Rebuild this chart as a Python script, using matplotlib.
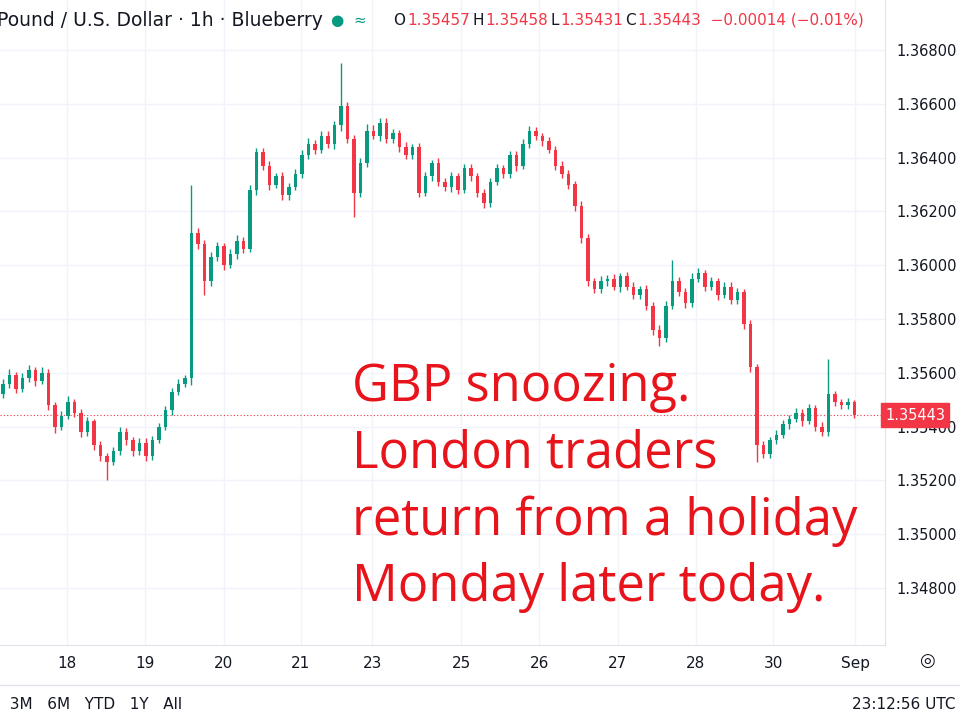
import matplotlib.pyplot as plt
from matplotlib.patches import Rectangle

# 2-hour candles, closes
closes = [
    1.3556, 1.3559, 1.3554, 1.3558, 1.3561, 1.3557, 1.3560, 1.3548, 1.3540, 1.3544,
    1.3549, 1.3545, 1.3538, 1.3542, 1.3533, 1.3529, 1.3527, 1.3531, 1.3538, 1.3535,
    1.3531, 1.3534, 1.3529, 1.3535, 1.3540, 1.3546, 1.3553, 1.3556, 1.3558, 1.3612,
    1.3608, 1.3594, 1.3603, 1.3607, 1.3600, 1.3604, 1.3609, 1.3606, 1.3628, 1.3642,
    1.3637, 1.3630, 1.3633, 1.3626, 1.3629, 1.3634, 1.3641, 1.3645, 1.3643, 1.3648,
    1.3645, 1.3652, 1.3659, 1.3647, 1.3627, 1.3638, 1.3650, 1.3648, 1.3653, 1.3647,
    1.3649, 1.3644, 1.3641, 1.3644, 1.3627, 1.3633, 1.3638, 1.3631, 1.3629, 1.3633,
    1.3628, 1.3636, 1.3633, 1.3627, 1.3623, 1.3631, 1.3636, 1.3634, 1.3641, 1.3637,
    1.3645, 1.3650, 1.3648, 1.3646, 1.3643, 1.3637, 1.3634, 1.3630, 1.3622, 1.3610,
    1.3594, 1.3591, 1.3594, 1.3595, 1.3592, 1.3596, 1.3592, 1.3589, 1.3591, 1.3585,
    1.3576, 1.3573, 1.3585, 1.3594, 1.3590, 1.3586, 1.3595, 1.3597, 1.3592, 1.3594,
    1.3589, 1.3592, 1.3587, 1.3590, 1.3578, 1.3562, 1.3533, 1.3530, 1.3535, 1.3537,
    1.3541, 1.3543, 1.3545, 1.3542, 1.3547, 1.3540, 1.3538, 1.3552, 1.3549, 1.3548,
    1.3549, 1.35443,
]
first_open = 1.3552
# wick lengths in units of 0.2 pip
wick_up = [
    8, 12, 6, 10, 9, 5, 11, 7, 6, 9, 12, 6, 8, 7, 5, 9, 6, 8, 10, 7,
    6, 9, 8, 7, 6, 8, 7, 9, 6, 10, 10, 7, 9, 8, 6, 10, 12, 8, 9, 8,
    7, 9, 6, 8, 7, 9, 10, 12, 8, 10, 9, 8, 8, 8, 7, 9, 12, 10, 8, 9,
    8, 7, 9, 6, 7, 8, 6, 9, 7, 8, 6, 9, 8, 6, 7, 8, 9, 6, 8, 7,
    9, 8, 7, 6, 9, 6, 8, 7, 6, 9, 8, 6, 9, 7, 8, 6, 7, 8, 6, 9,
    7, 8, 9, 12, 8, 7, 10, 9, 7, 8, 6, 9, 8, 7, 6, 8, 7, 8, 6, 9,
    8, 7, 9, 8, 7, 6, 8, 7, 6, 7, 8, 5,
]
wick_dn = [
    7, 9, 8, 6, 7, 10, 6, 9, 12, 7, 6, 8, 9, 7, 8, 9, 7, 6, 8, 9,
    10, 7, 9, 8, 6, 7, 8, 6, 7, 12, 9, 10, 8, 7, 9, 6, 8, 7, 6, 9,
    8, 10, 7, 9, 8, 6, 7, 8, 9, 7, 8, 9, 10, 8, 9, 8, 7, 6, 9, 8,
    7, 9, 8, 7, 9, 6, 8, 7, 8, 9, 7, 6, 8, 9, 8, 7, 6, 8, 7, 9,
    6, 8, 7, 9, 6, 8, 7, 9, 10, 8, 9, 7, 6, 8, 7, 9, 6, 8, 7, 9,
    10, 9, 7, 6, 8, 9, 7, 6, 8, 7, 9, 6, 8, 7, 9, 8, 6, 9, 8, 7,
    6, 9, 7, 8, 6, 9, 7, 8, 6, 7, 8, 6,
]
# a few notable spikes (candle index -> high / low)
spike_highs = {29: 1.3630, 52: 1.3675, 127: 1.3565, 103: 1.3602}
spike_lows = {16: 1.3520, 54: 1.3618, 101: 1.3570, 116: 1.3527, 31: 1.3589}
day_labels = ["18", "19", "20", "21", "23", "25", "26", "27", "28", "30", "Sep"]
day_pos = [9.8, 21.8, 34.0, 45.8, 56.8, 70.5, 82.5, 94.6, 106.6, 118.5, 131.1]
price_ticks = [1.348, 1.350, 1.352, 1.354, 1.356, 1.358, 1.360, 1.362, 1.364, 1.366, 1.368]

UP, DN = "#089981", "#f23645"
fig = plt.figure(figsize=(9.6, 7.22), dpi=100)
ax = fig.add_axes([0, 77 / 722, 885 / 960, 645 / 722])
ax.set_xlim(-0.46, 135.7)
ax.set_ylim(1.368 - 595 / 26900, 1.368 + 50 / 26900)

opens = [first_open] + closes[:-1]
for i, (o, c) in enumerate(zip(opens, closes)):
    col = UP if c >= o else DN
    hi = spike_highs.get(i, max(o, c) + wick_up[i] * 2e-5)
    lo = spike_lows.get(i, min(o, c) - wick_dn[i] * 2e-5)
    ax.vlines(i, lo, hi, color=col, lw=1, zorder=3)
    ax.add_patch(Rectangle((i - 0.25, min(o, c)), 0.5, max(abs(c - o), 1.5e-5),
                           color=col, zorder=4, lw=0))

for p in price_ticks:
    ax.axhline(p, color="#f0f3fa", lw=1, zorder=0)
for d in day_pos:
    ax.axvline(d, color="#f0f3fa", lw=1, zorder=0)
last = closes[-1]
ax.axhline(last, color=DN, lw=0.8, ls=(0, (1, 2)), zorder=2)

ax.set_xticks(day_pos)
ax.set_xticklabels(day_labels, fontsize=11, color="#131722")
ax.tick_params(axis="x", length=0, pad=8)
ax.yaxis.tick_right()
ax.set_yticks(price_ticks)
ax.set_yticklabels([f"{p:.5f}" for p in price_ticks], fontsize=10.5, color="#131722")
ax.tick_params(axis="y", length=0, pad=8)
for s in ["top", "left"]:
    ax.spines[s].set_visible(False)
ax.spines["right"].set_color("#e0e3eb")
ax.spines["bottom"].set_color("#e0e3eb")

ax.text(1.0, last, f"{last:.5f}", transform=ax.get_yaxis_transform(), fontsize=10.5,
        color="white", va="center", ha="left",
        bbox=dict(boxstyle="square,pad=0.3", fc=DN, ec=DN), clip_on=False)

# header
fig.text(-0.003, 0.972, "Pound / U.S. Dollar · 1h · Blueberry", fontsize=13.5,
         color="#131722", va="center")
fig.text(0.345, 0.972, "●  ≈", fontsize=11, color=UP, va="center")
fig.text(0.41, 0.972, "O", fontsize=11, color="#131722", va="center")
fig.text(0.424, 0.972, "1.35457", fontsize=11, color=DN, va="center")
fig.text(0.492, 0.972, "H", fontsize=11, color="#131722", va="center")
fig.text(0.506, 0.972, "1.35458", fontsize=11, color=DN, va="center")
fig.text(0.573, 0.972, "L", fontsize=11, color="#131722", va="center")
fig.text(0.584, 0.972, "1.35431", fontsize=11, color=DN, va="center")
fig.text(0.651, 0.972, "C", fontsize=11, color="#131722", va="center")
fig.text(0.665, 0.972, "1.35443  −0.00014 (−0.01%)", fontsize=11, color=DN, va="center")

# footer
fig.add_artist(plt.Line2D([0, 1], [37 / 722, 37 / 722], color="#e0e3eb", lw=1))
fig.text(0.0, 0.024, "  3M   6M   YTD   1Y   All", fontsize=11, color="#131722", va="center")
fig.text(0.995, 0.024, "23:12:56 UTC", fontsize=11, color="#131722", va="center", ha="right")
fig.text(0.965, 0.085, "◎", fontsize=13, color="#131722", va="center", ha="center")

fig.text(352 / 960, 1 - 362 / 722,
         "GBP snoozing.\nLondon traders\nreturn from a holiday\nMonday later today.",
         fontsize=36.5, color="#e8141c", family="Open Sans", va="top", ha="left",
         linespacing=1.4)

fig.savefig("out.png", dpi=100)
